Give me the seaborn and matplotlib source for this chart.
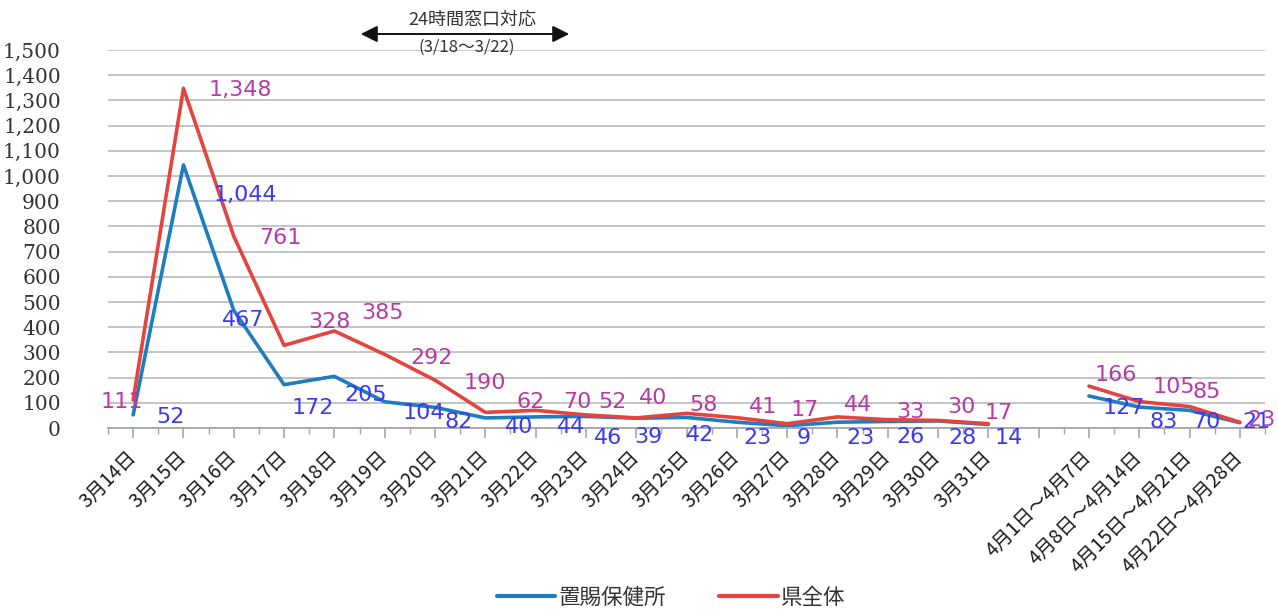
import matplotlib
matplotlib.use("Agg")
import matplotlib.pyplot as plt
from matplotlib.lines import Line2D
from matplotlib.ticker import FuncFormatter, FixedLocator
import numpy as np
import pandas as pd
import seaborn as sns

# ---------------- data ----------------
categories = ['3月14日', '3月15日', '3月16日', '3月17日', '3月18日', '3月19日',
              '3月20日', '3月21日', '3月22日', '3月23日', '3月24日', '3月25日',
              '3月26日', '3月27日', '3月28日', '3月29日', '3月30日', '3月31日',
              '',
              '4月1日～4月7日', '4月8日～4月14日', '4月15日～4月21日', '4月22日～4月28日']
okitama = [52, 1044, 467, 172, 205, 104, 82, 40, 44, 46, 39, 42, 23, 9, 23, 26, 28, 14,
           None, 127, 83, 70, 21]
prefecture = [111, 1348, 761, 328, 385, 292, 190, 62, 70, 52, 40, 58, 41, 17, 44, 33, 30, 17,
              None, 166, 105, 85, 23]
series_names = ['置賜保健所', '県全体']
yticks = list(range(0, 1501, 100))
note_title = '24時間窓口対応'
note_period = '(3/18～3/22)'

# ---------------- label placement (pixels: dx right, dy down) ----------------
okitama_label_off = [(37, 2), (62, 30), (9, 10), (29, 23), (31, 19), (39, 11), (24, 15),
                     (34, 9), (35, 10), (22, 22), (12, 19), (14, 18), (21, 16), (17, 12),
                     (23, 16), (23, 16), (24, 17), (20, 14), None,
                     (35, 12), (24, 15), (17, 12), (17, -1)]
pref_label_off = [(-11, 2), (57, 2), (47, 2), (45, -23), (48, -18), (47, 4), (50, 3),
                  (45, -10), (42, -8), (27, -13), (17, -20), (17, -8), (26, -11), (18, -14),
                  (21, -12), (23, -8), (23, -13), (10, -11), None,
                  (27, -11), (35, -15), (17, -15), (22, -2)]

blue_line = '#1F7DBF'
red_line = '#E4443D'
blue_text = '#3A3AF2'
red_text = '#B53AA6'

sns.set_theme(style='white')
plt.rcParams['font.family'] = ['Noto Sans CJK JP', 'DejaVu Sans']

rows = []
for name, vals in zip(series_names, [okitama, prefecture]):
    for i, v in enumerate(vals):
        if v is None:
            continue
        rows.append({'pos': i, 'value': v, 'series': name, 'segment': 0 if i < 18 else 1})
df = pd.DataFrame(rows)

W, H = 1278, 612
fig = plt.figure(figsize=(W / 100, H / 100), dpi=100)
ax = fig.add_axes([108 / W, 1 - 428 / H, (1265 - 108) / W, (428 - 50) / H])

sns.lineplot(data=df, x='pos', y='value', hue='series', units='segment', estimator=None,
             palette={series_names[0]: blue_line, series_names[1]: red_line},
             hue_order=series_names, linewidth=2.6, ax=ax, legend=False)

ax.set_xlim(-0.5, len(categories) - 0.5)
ax.set_ylim(0, 1500)
ax.set_xlabel('')
ax.set_ylabel('')

# grid
ax.set_yticks(yticks)
ax.yaxis.set_major_formatter(FuncFormatter(lambda v, p: f'{int(v):,}'))
ax.grid(axis='y', color='#BFBFBF', linewidth=1.3)
ax.grid(axis='x', visible=False)
ax.set_axisbelow(True)
for s in ['top', 'right', 'left']:
    ax.spines[s].set_visible(False)
ax.spines['bottom'].set_color('#A6A6A6')
ax.spines['bottom'].set_linewidth(1.3)

ax.set_xticks(range(len(categories)))
ax.set_xticklabels(categories, rotation=45, ha='right', va='center',
                   rotation_mode='anchor', fontsize=14, color='#1a1a1a',
                   family=['Noto Sans CJK JP', 'DejaVu Sans'])
ax.xaxis.set_minor_locator(FixedLocator(np.arange(-0.5, len(categories), 1.0)))
ax.tick_params(axis='x', which='major', bottom=True, length=7, width=1.2, color='#A6A6A6', pad=12)
ax.tick_params(axis='x', which='minor', bottom=True, length=4, width=1.0, color='#A6A6A6')
ax.tick_params(axis='y', left=False, pad=28)
for t in ax.get_yticklabels():
    t.set_family('DejaVu Serif')
    t.set_fontsize(14.5)
    t.set_color('#333333')

# data labels
for vals, offs, col in [(okitama, okitama_label_off, blue_text),
                        (prefecture, pref_label_off, red_text)]:
    for i, v in enumerate(vals):
        if v is None:
            continue
        dx, dy = offs[i]
        ax.annotate(f'{v:,}', xy=(i, v), xytext=(dx, -dy), textcoords='offset pixels',
                    ha='center', va='center', fontsize=16, color=col,
                    family='DejaVu Sans', annotation_clip=False)

# top annotation with double arrow
fig.text(472 / W, 1 - 20 / H, note_title, ha='center', va='center', fontsize=13,
         color='#333333')
fig.text(467 / W, 1 - 47 / H, note_period, ha='center', va='center', fontsize=12,
         color='#333333', family=['Noto Sans CJK JP', 'DejaVu Sans'])
fig.add_artist(matplotlib.patches.FancyArrowPatch(
    (358 / W, 1 - 34 / H), (572 / W, 1 - 34 / H), transform=fig.transFigure,
    arrowstyle='<|-|>,head_length=10,head_width=5', color='#111111', linewidth=1.4,
    mutation_scale=1))

# legend
handles = [Line2D([0], [0], color=blue_line, lw=3), Line2D([0], [0], color=red_line, lw=3)]
fig.legend(handles, series_names, loc='center', bbox_to_anchor=(671 / W, 1 - 598 / H),
           ncol=2, frameon=False, fontsize=15.5, handlelength=2.7, handletextpad=0.15,
           columnspacing=2.5, labelcolor='#333333')

fig.savefig('out.png', dpi=100)
